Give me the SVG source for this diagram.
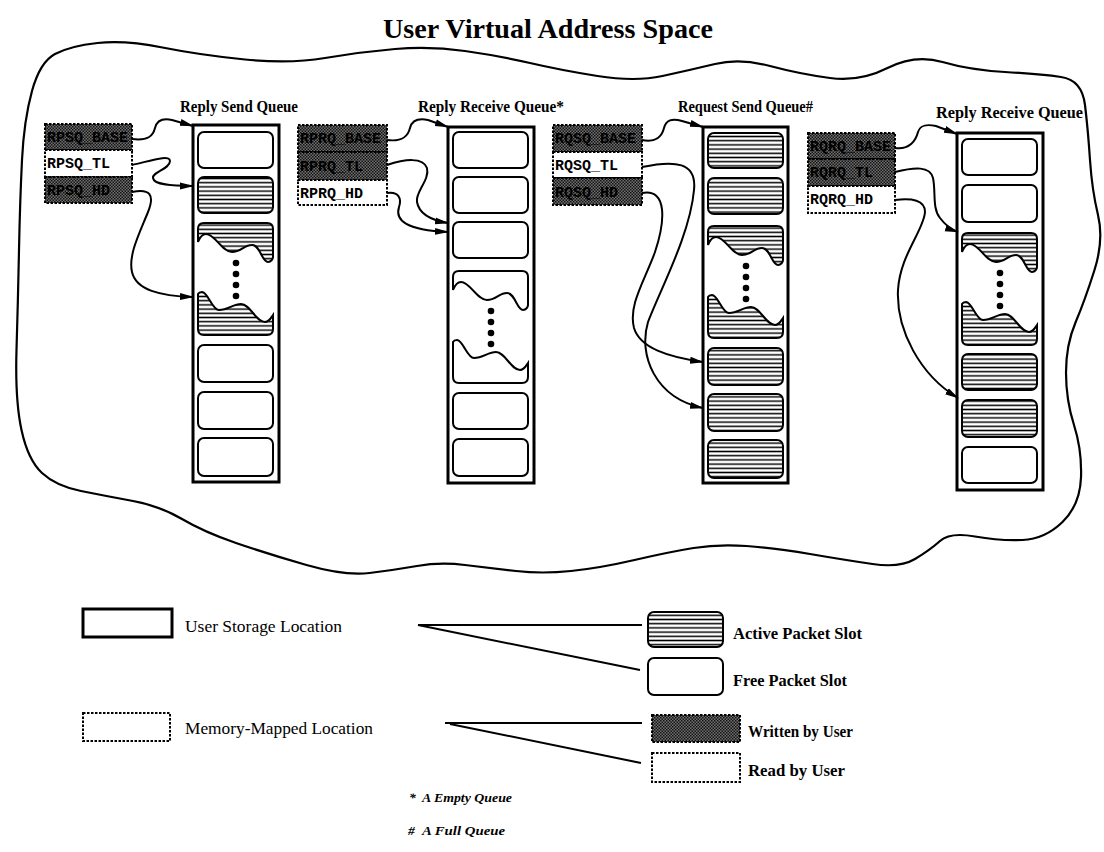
<svg xmlns="http://www.w3.org/2000/svg" xmlns:xlink="http://www.w3.org/1999/xlink" width="1104" height="852" viewBox="0 0 1104 852">
<style>
.title{font-family:"Liberation Serif",serif;font-weight:bold;fill:#000}
.ctitle{font-family:"Liberation Serif",serif;font-weight:bold;font-size:17px;fill:#000}
.leg{font-family:"Liberation Serif",serif;font-size:17px;fill:#000}
.legb{font-family:"Liberation Serif",serif;font-size:16.5px;font-weight:bold;fill:#000}
.note{font-family:"Liberation Serif",serif;font-size:13.5px;font-weight:bold;font-style:italic;fill:#000}
.reg{font-family:"Liberation Mono",monospace;font-weight:bold;font-size:15px;fill:#000}
.regd{font-family:"Liberation Mono",monospace;font-weight:bold;font-size:15px;fill:#000}
.col{fill:#fff;stroke:#000;stroke-width:3}
.slot{stroke:#000;stroke-width:2}
.free{fill:#fff}
.act{fill:url(#hatch)}
.box{stroke:#000;stroke-width:2;stroke-dasharray:2.5 1.5}
.dark{fill:url(#stip)}
.white{fill:#fff}
.conn{fill:none;stroke:#000;stroke-width:2}
.line{fill:none;stroke:#000;stroke-width:2}
.outline{fill:none;stroke:#000;stroke-width:2.2}
</style>
<defs>
<pattern id="hatch" patternUnits="userSpaceOnUse" width="10" height="4.2">
<rect width="10" height="4.2" fill="#fff"/>
<line x1="0" y1="2.1" x2="10" y2="2.1" stroke="#000" stroke-width="1.5"/>
</pattern>
<pattern id="stip" patternUnits="userSpaceOnUse" width="3" height="3">
<rect width="3" height="3" fill="#6e6e6e"/>
<rect width="1.5" height="1.5" fill="#151515"/>
<rect x="1.5" y="1.5" width="1.5" height="1.5" fill="#151515"/>
</pattern>
<marker id="ah" markerUnits="userSpaceOnUse" markerWidth="14" markerHeight="9" refX="13" refY="4.5" orient="auto">
<path d="M0,1 L14,4.5 L0,8 Z" fill="#000"/>
</marker>
<g id="dots">
<circle cx="38" cy="40" r="3.3"/>
<circle cx="38" cy="51" r="3.3"/>
<circle cx="38" cy="62" r="3.3"/>
<circle cx="38" cy="73" r="3.3"/>
</g>
<path id="brkTop" d="M0,19 C2,14 5,11 8,11 C17,11 24,29 34,29 C43,29 46,22 54,22 C62,22 64,39 70,39 C73,39 75,36 75,34 L75,6 Q75,0 69,0 L6,0 Q0,0 0,6 Z"/>
<path id="brkBot" d="M0,71 C1,69 3,69 4,69 C10,69 14,87 21,87 C30,87 35,81 43,81 C52,81 58,99 67,99 C71,99 73,95 75,92 L75,106 Q75,112 69,112 L6,112 Q0,112 0,106 Z"/>
<g id="brkA">
<use href="#brkTop" class="slot act"/>
<use href="#brkBot" class="slot act"/>
<use href="#dots"/>
</g>
<g id="brkF">
<use href="#brkTop" class="slot free"/>
<use href="#brkBot" class="slot free"/>
<use href="#dots"/>
</g>
</defs>

<rect width="1104" height="852" fill="#fff"/>

<g id="space">
<path class="outline" d="M32,91 Q40,62 55,54 Q70,46 97.5,43 Q125,40 162.5,47.5 Q200,55 245,59.5 Q290,64 325,58 Q360,52 395,49 Q430,46 465,51 Q500,56 530,63 Q560,70 597.5,76 Q635,82 662.5,76 Q690,70 715,64 Q740,58 770,66 Q800,74 830,78 Q860,82 887.5,68 Q915,54 942.5,62 Q970,70 1005,72 Q1040,74 1061,77 Q1082,80 1085,105 Q1088,130 1090,160 Q1092,190 1098,215 Q1104,240 1094.5,270 Q1085,300 1075.5,322.5 Q1066,345 1066,372.5 Q1066,400 1074,425 Q1082,450 1081,477.5 Q1080,505 1062.5,522 Q1045,539 1022.5,540 Q1000,541 975,536.5 Q950,532 940,541 Q930,550 915,559 Q900,568 872.5,564 Q845,560 810,554 Q775,548 746.5,546 Q718,544 693.5,548 Q669,552 634.5,560 Q600,568 571,571 Q542,574 516,571 Q490,568 465,565 Q440,562 417,566 Q394,570 369.5,573 Q345,576 306.5,565 Q268,554 236,543 Q204,532 182,519 Q160,506 133,501 Q106,496 81,491 Q56,486 42,473 Q28,460 21.5,430 Q15,400 16.5,350 Q18,300 19,250 Q20,200 22,160 Q24,120 32,91 Z"/>
<text class="title" x="548" y="38" font-size="28" text-anchor="middle" textLength="330" lengthAdjust="spacingAndGlyphs">User Virtual Address Space</text>
</g>

<g id="q1">
<text class="ctitle" x="180" y="112" textLength="118" lengthAdjust="spacingAndGlyphs">Reply Send Queue</text>
<rect class="col" x="193" y="125" width="86" height="357"/>
<rect class="slot free" x="198" y="132" width="75" height="36" rx="6"/>
<rect class="slot act" x="198" y="177" width="75" height="36" rx="6"/>
<use href="#brkA" x="198" y="223"/>
<rect class="slot free" x="198" y="345" width="75" height="37" rx="6"/>
<rect class="slot free" x="198" y="392" width="75" height="37" rx="6"/>
<rect class="slot free" x="198" y="438" width="75" height="38" rx="6"/>
</g>
<g id="r1">
<rect class="box dark" x="45" y="124" width="87" height="26"/>
<rect class="box white" x="45" y="150" width="87" height="27"/>
<rect class="box dark" x="45" y="177" width="87" height="26"/>
<text class="regd" x="47" y="142">RPSQ_BASE</text>
<text class="reg" x="47" y="168">RPSQ_TL</text>
<text class="regd" x="47" y="195">RPSQ_HD</text>
</g>

<g id="q2">
<text class="ctitle" x="418" y="112" textLength="146" lengthAdjust="spacingAndGlyphs">Reply Receive Queue*</text>
<rect class="col" x="448" y="127" width="86" height="356"/>
<rect class="slot free" x="453" y="132" width="75" height="36" rx="6"/>
<rect class="slot free" x="453" y="177" width="75" height="36" rx="6"/>
<rect class="slot free" x="453" y="222" width="75" height="36" rx="6"/>
<use href="#brkF" x="453" y="271"/>
<rect class="slot free" x="453" y="393" width="75" height="36" rx="6"/>
<rect class="slot free" x="453" y="439" width="75" height="37" rx="6"/>
</g>
<g id="r2">
<rect class="box dark" x="298" y="125" width="89" height="27"/>
<rect class="box dark" x="298" y="152" width="89" height="28"/>
<rect class="box white" x="298" y="180" width="89" height="25"/>
<text class="regd" x="300" y="143">RPRQ_BASE</text>
<text class="regd" x="300" y="171">RPRQ_TL</text>
<text class="reg" x="300" y="198">RPRQ_HD</text>
</g>

<g id="q3">
<text class="ctitle" x="678" y="112" textLength="135" lengthAdjust="spacingAndGlyphs">Request Send Queue#</text>
<rect class="col" x="703" y="127" width="85" height="356"/>
<rect class="slot act" x="708" y="133" width="75" height="35" rx="6"/>
<rect class="slot act" x="708" y="178" width="75" height="36" rx="6"/>
<use href="#brkA" x="708" y="226"/>
<rect class="slot act" x="708" y="348" width="75" height="37" rx="6"/>
<rect class="slot act" x="708" y="394" width="75" height="37" rx="6"/>
<rect class="slot act" x="708" y="440" width="75" height="38" rx="6"/>
</g>
<g id="r3">
<rect class="box dark" x="553" y="125" width="89" height="27"/>
<rect class="box white" x="553" y="152" width="89" height="26"/>
<rect class="box dark" x="553" y="178" width="89" height="27"/>
<text class="regd" x="555" y="143">RQSQ_BASE</text>
<text class="reg" x="555" y="170">RQSQ_TL</text>
<text class="regd" x="555" y="197">RQSQ_HD</text>
</g>

<g id="q4">
<text class="ctitle" x="936" y="118" textLength="147" lengthAdjust="spacingAndGlyphs">Reply Receive Queue</text>
<rect class="col" x="957" y="133" width="86" height="357"/>
<rect class="slot free" x="962" y="139" width="75" height="36" rx="6"/>
<rect class="slot free" x="962" y="185" width="75" height="37" rx="6"/>
<use href="#brkA" x="962" y="233"/>
<rect class="slot act" x="962" y="354" width="75" height="36" rx="6"/>
<rect class="slot act" x="962" y="400" width="75" height="37" rx="6"/>
<rect class="slot free" x="962" y="447" width="75" height="36" rx="6"/>
</g>
<g id="r4">
<rect class="box dark" x="808" y="133" width="87" height="26"/>
<rect class="box dark" x="808" y="159" width="87" height="27"/>
<rect class="box white" x="808" y="186" width="87" height="27"/>
<text class="regd" x="810" y="151">RQRQ_BASE</text>
<text class="regd" x="810" y="177">RQRQ_TL</text>
<text class="reg" x="810" y="204">RQRQ_HD</text>
</g>

<g id="connectors">
<path class="conn" marker-end="url(#ah)" d="M132,139 C148,141 153,136 155,128 C157,120 163,118 172,120 L193,126"/>
<path class="conn" marker-end="url(#ah)" d="M132,165 C150,161 170,154 170,161 C170,169 152,172 153,178 C154,185 172,186 193,186"/>
<path class="conn" marker-end="url(#ah)" d="M132,192 C150,188 155,195 148,212 C140,232 128,255 132,272 C136,290 160,296 193,297"/>

<path class="conn" marker-end="url(#ah)" d="M387,140 C403,142 408,136 410,128 C412,120 418,118 428,120 L448,127"/>
<path class="conn" marker-end="url(#ah)" d="M387,165 C405,159 423,157 427,168 C430,180 415,192 417,202 C419,214 430,220 448,223"/>
<path class="conn" marker-end="url(#ah)" d="M387,193 C398,191 402,198 399,207 C395,220 405,230 448,232"/>

<path class="conn" marker-end="url(#ah)" d="M642,140 C656,143 662,136 664,128 C666,120 672,118 682,121 L703,127"/>
<path class="conn" marker-end="url(#ah)" d="M642,167 C675,160 697,162 694,190 C690,235 660,290 648,322 C638,355 655,398 703,408"/>
<path class="conn" marker-end="url(#ah)" d="M642,193 C668,188 665,222 655,252 C645,280 628,305 634,328 C640,348 668,357 703,362"/>

<path class="conn" marker-end="url(#ah)" d="M895,148 C910,150 916,140 918,132 C920,125 926,124 936,126 L957,134"/>
<path class="conn" marker-end="url(#ah)" d="M895,172 C915,167 930,166 933,178 C936,192 932,208 940,218 C946,226 952,230 958,232"/>
<path class="conn" marker-end="url(#ah)" d="M895,200 C912,198 925,200 925,212 C924,230 900,255 898,290 C896,330 920,375 958,398"/>
</g>

<g id="legend">
<rect x="83" y="609" width="89" height="28" fill="#fff" stroke="#000" stroke-width="3"/>
<text class="leg" x="185" y="632" textLength="157" lengthAdjust="spacingAndGlyphs">User Storage Location</text>
<rect class="box white" x="83" y="713" width="87" height="28"/>
<text class="leg" x="185" y="734" textLength="188" lengthAdjust="spacingAndGlyphs">Memory-Mapped Location</text>

<path class="line" d="M418,625 L642,625 M418,625 L640,670"/>
<path class="line" d="M445,723 L642,723 M450,724 L641,763"/>

<rect class="slot act" x="648" y="612" width="75" height="35" rx="6"/>
<text class="legb" x="733" y="639" textLength="129" lengthAdjust="spacingAndGlyphs">Active Packet Slot</text>
<rect class="slot free" x="648" y="658" width="75" height="37" rx="6"/>
<text class="legb" x="733" y="686" textLength="114" lengthAdjust="spacingAndGlyphs">Free Packet Slot</text>
<rect class="box dark" x="652" y="715" width="88" height="27"/>
<text class="legb" x="748" y="737" textLength="105" lengthAdjust="spacingAndGlyphs">Written by User</text>
<rect class="box white" x="652" y="753" width="88" height="29"/>
<text class="legb" x="748" y="776" textLength="97" lengthAdjust="spacingAndGlyphs">Read by User</text>

<text class="note" x="409" y="802">*</text>
<text class="note" x="422" y="802" textLength="90" lengthAdjust="spacingAndGlyphs">A Empty Queue</text>
<text class="note" x="408" y="835">#</text>
<text class="note" x="422" y="835" textLength="83" lengthAdjust="spacingAndGlyphs">A Full Queue</text>
</g>
</svg>
